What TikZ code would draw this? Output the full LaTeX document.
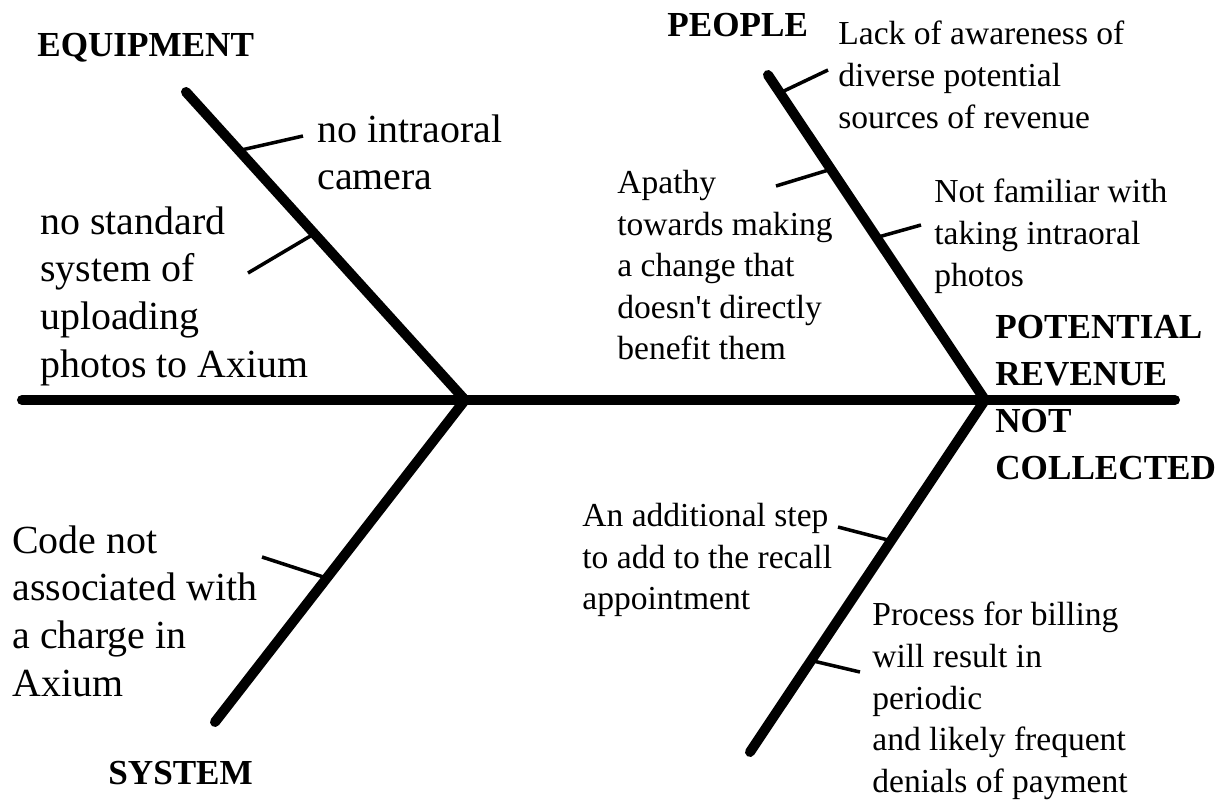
\documentclass[tikz,border=0pt]{standalone}
\usepackage{fontspec}
\setmainfont{Liberation Serif}
\usetikzlibrary{calc}
\tikzset{
  bone/.style={line width=5.7pt,line cap=round,line join=miter},
  twig/.style={line width=2pt},
  cat/.style={font=\fontsize{20pt}{26.7pt}\selectfont\bfseries,anchor=north west,inner sep=0pt,align=left},
  causebig/.style={font=\fontsize{22.7pt}{27.2pt}\selectfont,anchor=north west,inner sep=0pt,align=left},
  causesmall/.style={font=\fontsize{19.1pt}{23.66pt}\selectfont,anchor=north west,inner sep=0pt,align=left}
}

\begin{document}
\begin{tikzpicture}[x=0.02cm,y=-0.02cm]
\useasboundingbox (0,0) rectangle (1217,799);
\coordinate (tail) at (22,400);
\coordinate (head) at (1175,400);
\coordinate (j1) at (465,400);
\coordinate (j2) at (985,400);
\coordinate (equip) at (186,92);
\coordinate (sys) at (215,722);
\coordinate (ppl) at (768,75);
\coordinate (proc) at (750,752);
\draw[bone] (tail) -- (head);
\draw[bone] (equip) -- (j1) -- (sys);
\draw[bone] (ppl) -- (j2) -- (proc);

\node[cat] (equipment) at (37,33) {EQUIPMENT};
\node[cat] (people) at (667,13) {PEOPLE};
\node[cat] (effect) at (995,315) {POTENTIAL\\REVENUE\\NOT\\COLLECTED};
\node[cat] (system) at (108,761) {SYSTEM};

\node[causebig] (camera) at (317,114) {no intraoral\\camera};
\node[causebig] (upload) at (40,206) {no standard\\system of\\uploading\\photos to Axium};
\node[causebig] (code) at (12,525) {Code not\\associated with\\a charge in\\Axium};
\node[causesmall] (aware) at (838,21) {Lack of awareness of\\diverse potential\\sources of revenue};
\node[causesmall] (apathy) at (617,170) {Apathy\\towards making\\a change that\\doesn\textquotesingle t directly\\benefit them};
\node[causesmall] (familiar) at (934,179) {Not familiar with\\taking intraoral\\photos};
\node[causesmall] (step) at (582,503) {An additional step\\to add to the recall\\appointment};
\node[causesmall] (billing) at (872,602) {Process for billing\\will result in\\periodic\\and likely frequent\\denials of payment};

\coordinate (cameraend) at (303,136);
\coordinate (uploadend) at (248,273);
\coordinate (codeend) at (262,557);
\coordinate (awareend) at (828,70);
\coordinate (apathyend) at (776,186);
\coordinate (familiarend) at (921,225);
\coordinate (stepend) at (838,527);
\coordinate (billingend) at (860,672);
\draw[twig] ($(equip)!0.19!(j1)$) -- (cameraend);
\draw[twig] ($(equip)!0.46!(j1)$) -- (uploadend);
\draw[twig] ($(j1)!0.553!(sys)$) -- (codeend);
\draw[twig] ($(ppl)!0.055!(j2)$) -- (awareend);
\draw[twig] ($(ppl)!0.29!(j2)$) -- (apathyend);
\draw[twig] ($(ppl)!0.5!(j2)$) -- (familiarend);
\draw[twig] ($(j2)!0.40!(proc)$) -- (stepend);
\draw[twig] ($(j2)!0.74!(proc)$) -- (billingend);
\end{tikzpicture}
\end{document}
